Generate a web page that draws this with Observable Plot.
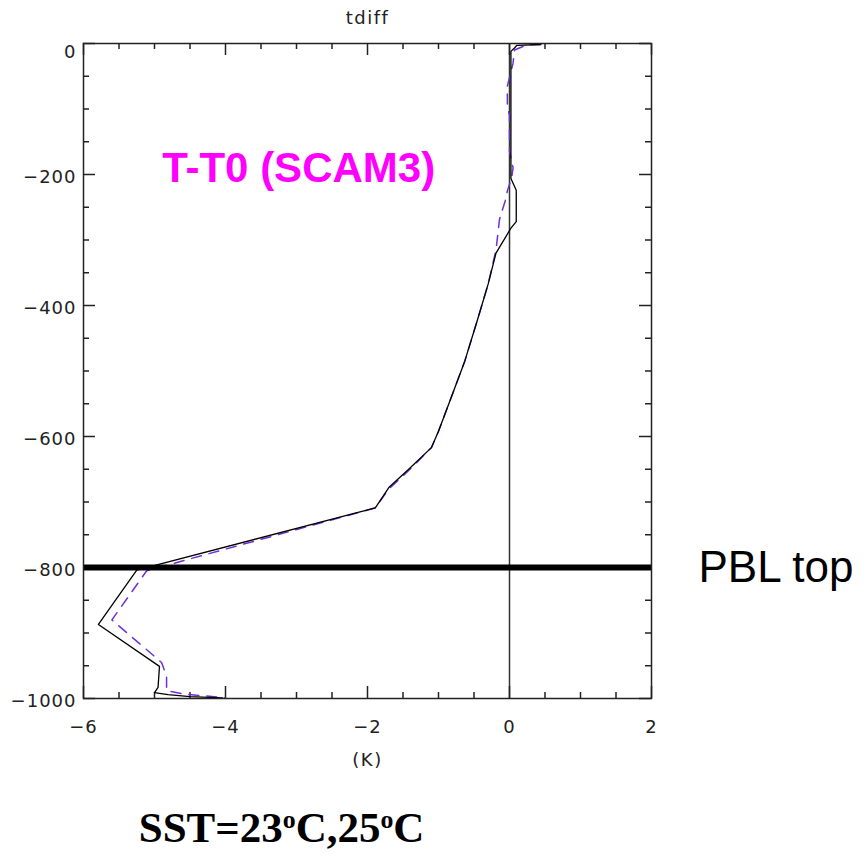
<!DOCTYPE html>
<html>
<head>
<meta charset="utf-8">
<script src="https://cdn.jsdelivr.net/npm/d3@7"></script>
<script src="https://cdn.jsdelivr.net/npm/@observablehq/plot@0.6"></script>
<style>
html, body { margin: 0; padding: 0; background: #fff; }
#chart svg { display: block; }
g[aria-label="x-axis tick label"] text,
g[aria-label="y-axis tick label"] text { letter-spacing: 1px; }
</style>
</head>
<body>
<div id="chart"></div>
<script>
// ---- data ----
const chartTitle = "tdiff";
const xAxisLabel = "(K)";
const annotation = "T-T0 (SCAM3)";
const pblLabel = "PBL top";
const pblLevel = -800;
const captionParts = ["SST=23", "o", "C,25", "o", "C"];
const captionSup   = [false, true, false, true, false];

const xMajorTicks = [-6, -4, -2, 0, 2];
const xMinorTicks = [-5.5, -5, -4.5, -3.5, -3, -2.5, -1.5, -1, -0.5, 0.5, 1, 1.5];
const yMajorTicks = [0, -200, -400, -600, -800, -1000];
const yMinorTicks = [-50, -100, -150, -250, -300, -350, -450, -500, -550, -650, -700, -750, -850, -900, -950];

// solid black profile (SST=23C)
const blackT = [0.44, 0.10, 0.07, 0.02, 0.02, 0.095, 0.095, 0.02, -0.19, -0.30, -0.44, -0.63, -0.82, -1.00, -1.10, -1.42, -1.70, -1.89, -5.25, -5.79, -4.93, -4.95, -5.00, -4.81, -4.50, -4.04];
const blackP = [-1.5, -3, -7, -12, -206, -224, -272, -282, -320, -367, -418, -485, -540, -592, -617, -650, -678, -709, -804, -887, -951, -983, -991, -994, -997, -999];

// dashed purple profile (SST=25C)
const purpleT = [0.44, 0.25, 0.07, 0.05, -0.03, -0.03, 0.0, 0.0, 0.05, 0.03, -0.03, -0.06, -0.14, -0.19, -0.30, -0.44, -0.63, -0.82, -1.00, -1.10, -1.42, -1.70, -1.89, -5.11, -5.60, -4.90, -4.83, -4.83, -4.60, -4.00];
const purpleP = [-1.5, -2, -10, -30, -65, -95, -110, -165, -190, -205, -225, -240, -268, -315, -367, -418, -485, -540, -592, -617, -652, -680, -709, -805, -880, -945, -966, -988, -993, -999];

const blackData = blackT.map((t, i) => ({t, p: blackP[i]}));
const purpleData = purpleT.map((t, i) => ({t, p: purpleP[i]}));

const W = 865, H = 861, mL = 83, mR = 214, mT = 43, mB = 163;
const fw = W - mL - mR, fh = H - mT - mB;
const tickColor = "#222";

const svg = Plot.plot({
  width: W, height: H,
  marginLeft: mL, marginRight: mR, marginTop: mT, marginBottom: mB,
  x: {domain: [-6, 2]},
  y: {domain: [-1000, 0]},
  style: {background: "white", fontFamily: "DejaVu Sans, sans-serif", color: "#222"},
  marks: [
    // zero line
    Plot.ruleX([0], {stroke: "#333", strokeWidth: 1.5}),
    // inward ticks: bottom / top
    Plot.ruleX(xMajorTicks, {x: d => d, insetTop: fh - 12, stroke: tickColor, strokeWidth: 1.5}),
    Plot.ruleX(xMinorTicks, {x: d => d, insetTop: fh - 6, stroke: tickColor, strokeWidth: 1.5}),
    Plot.ruleX(xMajorTicks, {x: d => d, insetBottom: fh - 12, stroke: tickColor, strokeWidth: 1.5}),
    Plot.ruleX(xMinorTicks, {x: d => d, insetBottom: fh - 6, stroke: tickColor, strokeWidth: 1.5}),
    // inward ticks: left / right
    Plot.ruleY(yMajorTicks, {y: d => d, insetRight: fw - 12, stroke: tickColor, strokeWidth: 1.5}),
    Plot.ruleY(yMinorTicks, {y: d => d, insetRight: fw - 6, stroke: tickColor, strokeWidth: 1.5}),
    Plot.ruleY(yMajorTicks, {y: d => d, insetLeft: fw - 12, stroke: tickColor, strokeWidth: 1.5}),
    Plot.ruleY(yMinorTicks, {y: d => d, insetLeft: fw - 6, stroke: tickColor, strokeWidth: 1.5}),
    // profiles
    Plot.line(purpleData, {x: "t", y: "p", stroke: "#7030d8", strokeWidth: 1.5, strokeDasharray: "10,8"}),
    Plot.line(blackData, {x: "t", y: "p", stroke: "black", strokeWidth: 1.3}),
    // PBL top
    Plot.ruleY([pblLevel], {stroke: "black", strokeWidth: 6}),
    Plot.frame({stroke: tickColor, strokeWidth: 1.5}),
    // axes labels
    Plot.axisX(xMajorTicks, {anchor: "bottom", tickSize: 0, tickPadding: 22, fontSize: 18, tickFormat: "d", label: null}),
    Plot.axisY(yMajorTicks.filter(d => d !== 0), {anchor: "left", tickSize: 0, tickPadding: 7, dy: 3, fontSize: 18, tickFormat: "d", label: null}),
    Plot.axisY([0], {anchor: "left", tickSize: 0, tickPadding: 7, dy: 9, fontSize: 18, tickFormat: "d", label: null}),
    // texts
    Plot.text([chartTitle], {frameAnchor: "top", dy: -25, lineAnchor: "middle", fontSize: 18, fill: "#222"}),
    Plot.text([xAxisLabel], {frameAnchor: "bottom", dy: 62, lineAnchor: "middle", fontSize: 18, fill: "#222"}),
    Plot.text([annotation], {x: -2.97, y: -191, lineAnchor: "middle", fontSize: 42, fontWeight: "bold", fill: "#ff00ff", fontFamily: "Liberation Sans, Arial, sans-serif"}),
    Plot.text([pblLabel], {frameAnchor: "right", y: pblLevel, dx: 47, textAnchor: "start", lineAnchor: "middle", fontSize: 44, fill: "black", fontFamily: "Liberation Sans, Arial, sans-serif"}),
    Plot.text([captionParts.join("")], {frameAnchor: "bottom", x: -3.21, dy: 130, lineAnchor: "middle", fontSize: 43, fontWeight: "bold", fill: "black", fontFamily: "Liberation Serif, Times New Roman, serif"})
  ]
});

// letter-spacing for title / x label
d3.select(svg).selectAll("text").filter(function() {
  return this.textContent === chartTitle || this.textContent === xAxisLabel;
}).style("letter-spacing", "1.5px");

// superscript "o" in the caption
const capText = captionParts.join("");
d3.select(svg).selectAll("text").filter(function() { return this.textContent === capText; })
  .each(function() {
    const t = d3.select(this);
    t.text(null);
    let raised = false;
    captionParts.forEach((part, i) => {
      const s = t.append("tspan").text(part);
      if (captionSup[i]) { s.attr("font-size", "60%").attr("dy", "-0.55em"); raised = true; }
      else if (raised) { s.attr("dy", "0.33em"); raised = false; }
    });
  });

document.getElementById("chart").appendChild(svg);
</script>
</body>
</html>
